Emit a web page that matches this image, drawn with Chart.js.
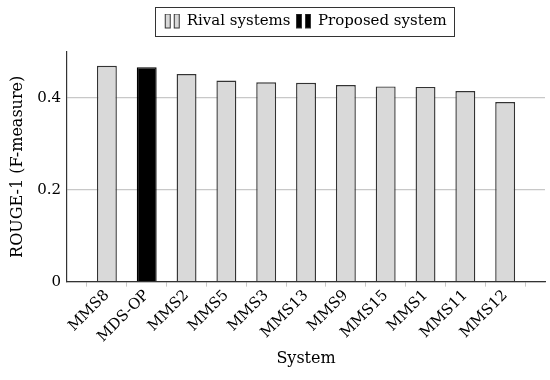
<!DOCTYPE html>
<html>
<head>
<meta charset="utf-8">
<script src="https://cdn.jsdelivr.net/npm/chart.js@4"></script>
<style>
  body { margin: 0; background: #fff; }
</style>
</head>
<body>
<canvas id="chart" width="550" height="380"></canvas>
<script>
const systems = ['MMS8', 'MDS-OP', 'MMS2', 'MMS5', 'MMS3', 'MMS13', 'MMS9', 'MMS15', 'MMS1', 'MMS11', 'MMS12'];
const rouge1 = [0.470, 0.467, 0.452, 0.438, 0.434, 0.433, 0.428, 0.425, 0.424, 0.415, 0.391];
const proposed = 'MDS-OP';
const yTicks = [0, 0.2, 0.4];

const font = 'DejaVu Serif';
const greyFill = '#d9d9d9';
const edge = '#333333';

function legendIcon(fill) {
    const c = document.createElement('canvas');
    c.width = 17;
    c.height = 16;
    const g = c.getContext('2d');
    g.fillStyle = fill;
    g.strokeStyle = edge;
    g.lineWidth = 1;
    g.fillRect(1.5, 0.5, 5, 14);
    g.strokeRect(1.5, 0.5, 5, 14);
    g.fillRect(10.5, 0.5, 5, 14);
    g.strokeRect(10.5, 0.5, 5, 14);
    return c;
}

const rivalPoints = [];
const proposedPoints = [];
systems.forEach((s, i) => {
    if (s === proposed) {
        proposedPoints.push({x: i, y: rouge1[i]});
    } else {
        rivalPoints.push({x: i, y: rouge1[i]});
    }
});

// frame around the legend entries + some room under the legend
const legendFrame = {
    id: 'legendFrame',
    beforeLayout(chart) {
        const legend = chart.legend;
        if (legend && !legend._extraRoom) {
            const fit = legend.fit;
            legend.fit = function() {
                fit.call(this);
                this.height += 13;
            };
            legend._extraRoom = true;
        }
    },
    afterDraw(chart) {
        const boxes = chart.legend.legendHitBoxes;
        if (!boxes || !boxes.length) return;
        let left = Infinity, right = -Infinity, top = Infinity, bottom = -Infinity;
        boxes.forEach(b => {
            left = Math.min(left, b.left);
            right = Math.max(right, b.left + b.width);
            top = Math.min(top, b.top);
            bottom = Math.max(bottom, b.top + b.height);
        });
        const mid = (top + bottom) / 2;
        const ctx = chart.ctx;
        ctx.save();
        ctx.strokeStyle = edge;
        ctx.lineWidth = 1;
        ctx.strokeRect(Math.round(left - 10) + 0.5, Math.round(mid - 14.5) + 0.5,
            Math.round(right - left + 17), 29);
        ctx.restore();
    }
};

window.onload = function() {
    const ctx = document.getElementById('chart').getContext('2d');
    new Chart(ctx, {
        type: 'bar',
        data: {
            datasets: [{
                label: 'Rival systems',
                data: rivalPoints,
                backgroundColor: greyFill,
                borderColor: edge,
                borderWidth: 1.4,
                grouped: false,
                barPercentage: 0.5,
                categoryPercentage: 1
            }, {
                label: 'Proposed system',
                data: proposedPoints,
                backgroundColor: '#000000',
                borderColor: '#000000',
                borderWidth: 1.4,
                grouped: false,
                barPercentage: 0.5,
                categoryPercentage: 1
            }]
        },
        options: {
            responsive: false,
            animation: false,
            layout: { padding: { left: 4, right: 5, top: 8, bottom: 8 } },
            plugins: {
                tooltip: { enabled: false },
                legend: {
                    position: 'top',
                    fullSize: false,
                    labels: {
                        font: { family: font, size: 15 },
                        color: '#000',
                        usePointStyle: true,
                        pointStyleWidth: 14,
                        boxHeight: 15,
                        padding: 6,
                        generateLabels: chart => chart.data.datasets.map((d, i) => ({
                            text: d.label,
                            pointStyle: legendIcon(d.backgroundColor),
                            datasetIndex: i,
                            fontColor: '#000',
                            lineWidth: 0
                        }))
                    }
                }
            },
            scales: {
                x: {
                    type: 'linear',
                    offset: false,
                    min: -1,
                    max: systems.length,
                    afterBuildTicks: axis => {
                        axis.ticks = systems.map((s, i) => ({value: i}));
                    },
                    ticks: {
                        autoSkip: false,
                        minRotation: 45,
                        maxRotation: 45,
                        font: { family: font, size: 15 },
                        color: '#000',
                        padding: 0,
                        callback: v => systems[v]
                    },
                    grid: {
                        drawOnChartArea: false,
                        drawTicks: true,
                        tickLength: 5,
                        color: '#c8c8c8'
                    },
                    border: { color: edge, width: 1.2 },
                    title: {
                        display: true,
                        text: 'System',
                        font: { family: font, size: 16 },
                        color: '#000',
                        padding: { top: 3 }
                    }
                },
                y: {
                    min: 0,
                    max: 0.5,
                    afterBuildTicks: axis => {
                        axis.ticks = yTicks.map(v => ({value: v}));
                    },
                    ticks: {
                        font: { family: font, size: 15 },
                        color: '#000',
                        padding: 6,
                        callback: v => String(v)
                    },
                    grid: {
                        color: '#c8c8c8',
                        lineWidth: 1.2,
                        drawTicks: false
                    },
                    border: { color: edge, width: 1.2 },
                    title: {
                        display: true,
                        text: 'ROUGE-1 (F-measure)',
                        font: { family: font, size: 16 },
                        color: '#000',
                        padding: { bottom: 4 }
                    }
                }
            }
        },
        plugins: [legendFrame]
    });
};
</script>
</body>
</html>
